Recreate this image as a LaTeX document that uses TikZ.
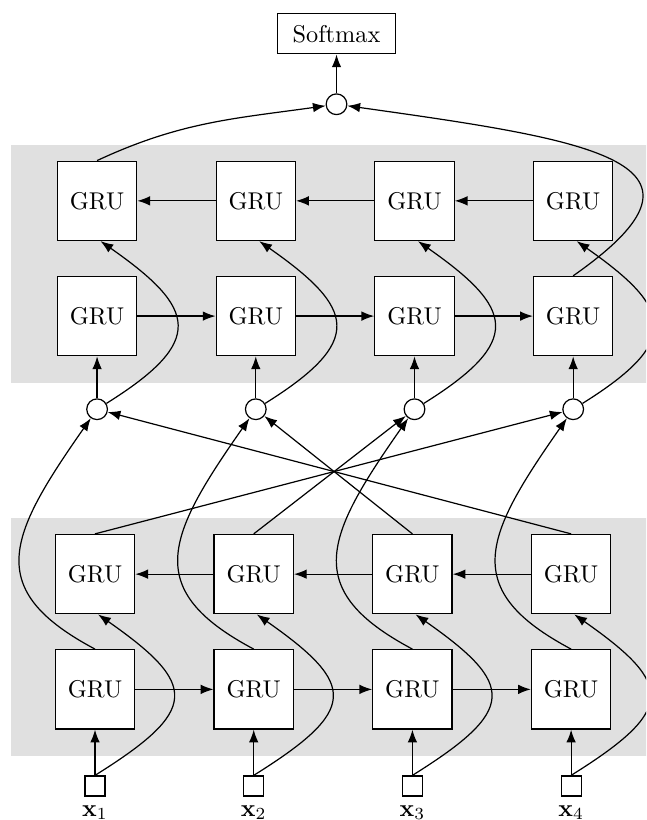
\documentclass[tikz,border=0pt]{standalone}
\usetikzlibrary{positioning,arrows.meta}

\begin{document}
\begin{tikzpicture}[
    gru/.style={
        rectangle,
        draw=black,
        fill=white,
        minimum size=1.15cm,
        inner sep=0pt
    },
    merge/.style={
        circle,
        draw=black,
        fill=white,
        minimum size=0.3cm,
        inner sep=0pt
    },
    inp/.style={
        rectangle,
        draw=black,
        fill=white,
        minimum size=0.29cm,
        inner sep=0pt
    },
    sm/.style={
        rectangle,
        draw=black,
        fill=white,
        minimum width=1.72cm,
        minimum height=0.58cm
    },
    layer/.style={fill=black!12},
    line width=0.5pt,
    >=Latex
]

    % picture frame
    \useasboundingbox (-1.377, -0.493) rectangle (7.986, 11.391);
    \clip (-1.377, -0.493) rectangle (7.986, 11.391);

    % grey layers
    \fill[layer] (-1.217, 0.435) rectangle (8.2, 3.880);
    \fill[layer] (-1.217, 5.836) rectangle (8.2, 9.290);

    % columns: inputs, lower bi-GRU, merge, upper bi-GRU
    \foreach \i/\x in {1/0, 2/2.3, 3/4.6, 4/6.9} {
        \node[inp] (x\i) at (\x, 0) {};
        \node[below=0pt of x\i] (lx\i) {$\mathbf{x}_{\i}$};
        \node[gru] (f\i) at (\x, 1.40) {GRU};
        \node[gru] (b\i) at (\x, 3.07) {GRU};
        \node[merge] (m\i) at (\x+0.03, 5.46) {};
        \node[gru] (uf\i) at (\x+0.03, 6.81) {GRU};
        \node[gru] (ub\i) at (\x+0.03, 8.48) {GRU};
    }

    % output
    \node[merge] (top) at (3.5, 9.88) {};
    \node[sm] (soft) at (3.5, 10.90) {Softmax};

    % vertical links and curves
    \foreach \i in {1,...,4} {
        \draw[->] (x\i) -- (f\i);
        \draw[->] (x\i.north) to[out=32, in=-35, looseness=1.95] ([xshift=0.045cm]b\i.south);
        \draw[->] (f\i.north) to[out=152, in=-125, out looseness=1.4, in looseness=1.6] (m\i);
        \draw[->] (m\i) -- (uf\i);
        \draw[->] (m\i) to[out=32, in=-35, looseness=1.85] ([xshift=0.05cm]ub\i.south);
    }

    % backward outputs, reversed
    \foreach \i/\j in {1/4, 2/3, 3/2, 4/1}
        \draw[->] (b\i.north) -- (m\j);

    % recurrent links
    \foreach \i/\j in {1/2, 2/3, 3/4} {
        \draw[->] (f\i) -- (f\j);
        \draw[->] (b\j) -- (b\i);
        \draw[->] (uf\i) -- (uf\j);
        \draw[->] (ub\j) -- (ub\i);
    }

    % to softmax
    \draw[->] (ub1.north) to[out=25, in=-172] (top);
    \draw[->] (uf4.north) to[out=35, in=-8, out looseness=1.8, in looseness=2.25] (top);
    \draw[->] (top) -- (soft);

\end{tikzpicture}
\end{document}
